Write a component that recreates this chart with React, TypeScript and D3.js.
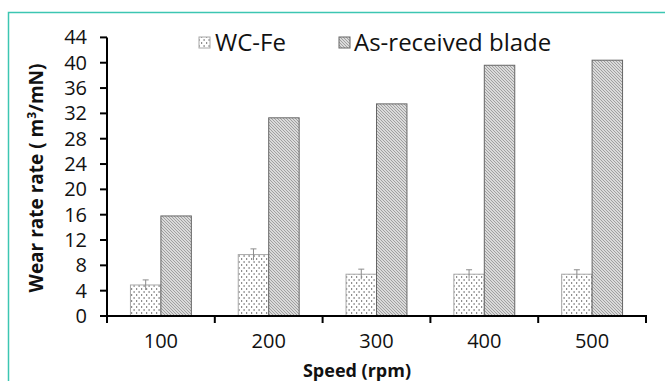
import React, { useEffect, useRef } from "react";
import * as d3 from "d3";

const categories = ["100", "200", "300", "400", "500"];
const seriesNames = ["WC-Fe", "As-received blade"];
const wcFe = [4.9, 9.7, 6.6, 6.6, 6.6];
const wcFeErr = [0.8, 0.9, 0.8, 0.7, 0.7];
const blade = [15.8, 31.3, 33.5, 39.6, 40.4];
const yTicks = [0, 4, 8, 12, 16, 20, 24, 28, 32, 36, 40, 44];

const W = 665;
const H = 381;
const FONT = "'Open Sans', 'DejaVu Sans', sans-serif";

export default function App() {
  const ref = useRef<SVGSVGElement | null>(null);

  useEffect(() => {
    const svg = d3.select(ref.current);
    svg.selectAll("*").remove();

    const defs = svg.append("defs");
    const p1 = defs
      .append("pattern")
      .attr("id", "dots")
      .attr("patternUnits", "userSpaceOnUse")
      .attr("width", 5)
      .attr("height", 6);
    p1.append("rect").attr("width", 5).attr("height", 6).attr("fill", "#fff");
    p1.append("rect").attr("x", 1).attr("y", 0).attr("width", 1.2).attr("height", 2).attr("fill", "#8e8e8e");
    p1.append("rect").attr("x", 3.5).attr("y", 3).attr("width", 1.2).attr("height", 2).attr("fill", "#8e8e8e");

    const p2 = defs
      .append("pattern")
      .attr("id", "hatch")
      .attr("patternUnits", "userSpaceOnUse")
      .attr("width", 3)
      .attr("height", 3);
    p2.append("rect").attr("width", 3).attr("height", 3).attr("fill", "#dadada");
    p2.append("path")
      .attr("d", "M0,0 L3,3 M-1,2 L1,4 M2,-1 L4,1")
      .attr("stroke", "#9a9a9a")
      .attr("stroke-width", 0.9);

    svg
      .append("path")
      .attr("d", `M8.5,${H + 5} L8.5,12.5 L${W + 5},12.5`)
      .attr("fill", "none")
      .attr("stroke", "#3cc6b2")
      .attr("stroke-width", 1.5);

    const x0 = d3.scaleBand<string>().domain(categories).range([107, 646]).padding(0);
    const x1 = d3
      .scaleBand<string>()
      .domain(seriesNames)
      .range([0, x0.bandwidth()])
      .paddingInner(0)
      .paddingOuter(0.77);
    const y = d3.scaleLinear().domain([0, 44]).range([316, 37.4]);

    const g = svg.append("g");

    categories.forEach((c, i) => {
      const xa = x0(c)! + x1(seriesNames[0])!;
      const xb = x0(c)! + x1(seriesNames[1])!;
      g.append("rect")
        .attr("x", xa)
        .attr("y", y(wcFe[i]))
        .attr("width", x1.bandwidth())
        .attr("height", y(0) - y(wcFe[i]))
        .attr("fill", "url(#dots)")
        .attr("stroke", "#a8a8a8")
        .attr("stroke-width", 1);
      g.append("rect")
        .attr("x", xb)
        .attr("y", y(blade[i]))
        .attr("width", x1.bandwidth())
        .attr("height", y(0) - y(blade[i]))
        .attr("fill", "url(#hatch)")
        .attr("stroke", "#666")
        .attr("stroke-width", 1);
      const cx = xa + x1.bandwidth() / 2;
      const top = y(wcFe[i] + wcFeErr[i]);
      const bot = y(wcFe[i] - wcFeErr[i]);
      g.append("line")
        .attr("x1", cx)
        .attr("x2", cx)
        .attr("y1", top)
        .attr("y2", bot)
        .attr("stroke", "#8c8c8c")
        .attr("stroke-width", 1);
      g.append("line")
        .attr("x1", cx - 3)
        .attr("x2", cx + 3)
        .attr("y1", top)
        .attr("y2", top)
        .attr("stroke", "#8c8c8c")
        .attr("stroke-width", 1);
    });

    const ya = svg.append("g").attr("transform", "translate(107,0)");
    ya.append("line")
      .attr("x1", 0)
      .attr("x2", 0)
      .attr("y1", y(44))
      .attr("y2", y(0) + 1)
      .attr("stroke", "#000")
      .attr("stroke-width", 2);
    yTicks.forEach((t) => {
      ya.append("line")
        .attr("x1", -7)
        .attr("x2", 0)
        .attr("y1", y(t))
        .attr("y2", y(t))
        .attr("stroke", "#000")
        .attr("stroke-width", 2);
      ya.append("text")
        .attr("x", -20)
        .attr("y", y(t))
        .attr("dy", "0.35em")
        .attr("text-anchor", "end")
        .attr("font-family", FONT)
        .attr("font-size", 20)
        .attr("fill", "#111")
        .text(String(t));
    });

    const xa = svg.append("g");
    xa.append("line")
      .attr("x1", 106)
      .attr("x2", 647)
      .attr("y1", 316)
      .attr("y2", 316)
      .attr("stroke", "#000")
      .attr("stroke-width", 2);
    const bounds = [107, ...categories.map((c) => x0(c)! + x0.bandwidth())];
    bounds.forEach((bx) => {
      xa.append("line")
        .attr("x1", bx)
        .attr("x2", bx)
        .attr("y1", 316)
        .attr("y2", 323)
        .attr("stroke", "#000")
        .attr("stroke-width", 2);
    });
    categories.forEach((c) => {
      xa.append("text")
        .attr("x", x0(c)! + x0.bandwidth() / 2)
        .attr("y", 341)
        .attr("dy", "0.35em")
        .attr("text-anchor", "middle")
        .attr("font-family", FONT)
        .attr("font-size", 20)
        .attr("fill", "#111")
        .text(c);
    });

    svg
      .append("text")
      .attr("x", 357)
      .attr("y", 377)
      .attr("text-anchor", "middle")
      .attr("font-family", FONT)
      .attr("font-weight", "bold")
      .attr("font-size", 18)
      .attr("fill", "#111")
      .text("Speed (rpm)");

    const yt = svg
      .append("text")
      .attr("transform", "translate(43,178) rotate(-90)")
      .attr("text-anchor", "middle")
      .attr("font-family", FONT)
      .attr("font-weight", "bold")
      .attr("font-size", 19)
      .attr("fill", "#111");
    yt.append("tspan").text("Wear rate rate ( m");
    yt.append("tspan").attr("dy", -7).attr("font-size", 12).text("3");
    yt.append("tspan").attr("dy", 7).text("/mN)");

    const legend = [
      { name: seriesNames[0], fill: "url(#dots)", stroke: "#a8a8a8", x: 199, tx: 215 },
      { name: seriesNames[1], fill: "url(#hatch)", stroke: "#666", x: 339, tx: 354 },
    ];
    legend.forEach((l) => {
      svg
        .append("rect")
        .attr("x", l.x)
        .attr("y", 37)
        .attr("width", 11)
        .attr("height", 11)
        .attr("fill", l.fill)
        .attr("stroke", l.stroke);
      svg
        .append("text")
        .attr("x", l.tx)
        .attr("y", 43)
        .attr("dy", "0.35em")
        .attr("font-family", FONT)
        .attr("font-size", 24)
        .attr("fill", "#111")
        .text(l.name);
    });
  }, []);

  return (
    <svg
      ref={ref}
      width={W}
      height={H}
      style={{ position: "absolute", left: 0, top: 0, background: "#fff" }}
    />
  );
}
